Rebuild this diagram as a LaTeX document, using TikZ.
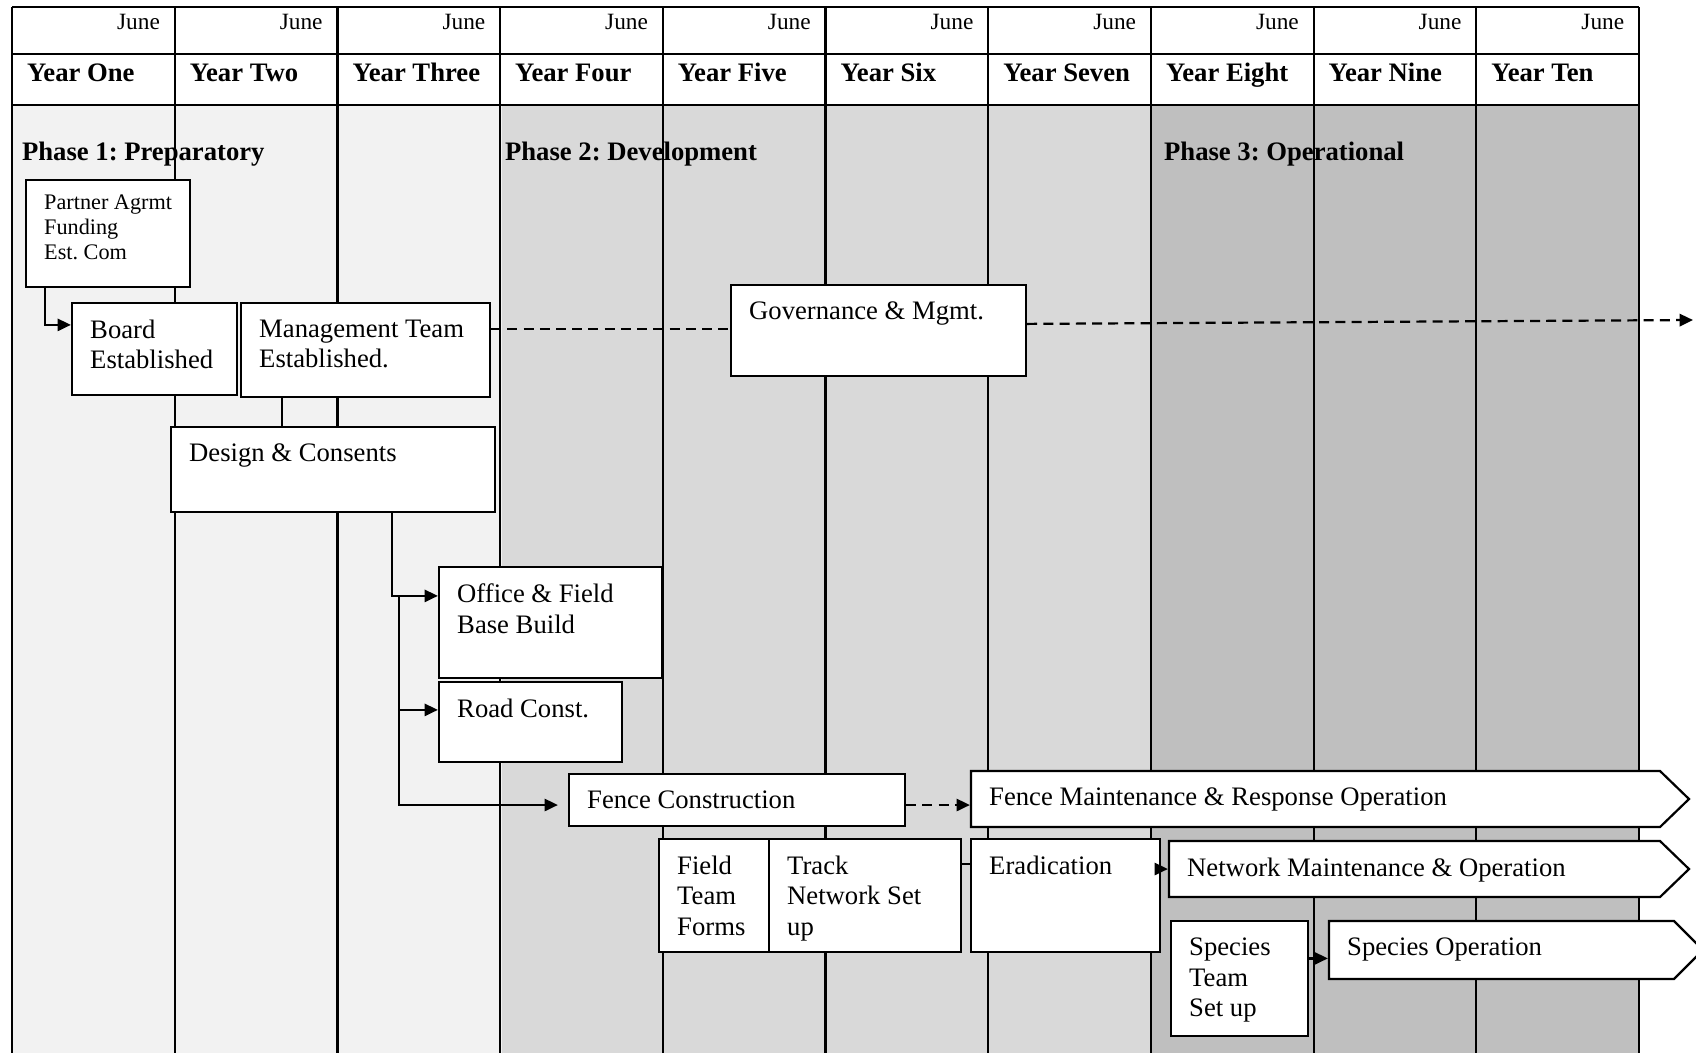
\documentclass[tikz,border=0pt]{standalone}
\usepackage{fontspec}
\setmainfont{Liberation Serif}
\usepackage{tikz}
\definecolor{phaseone}{HTML}{F2F2F2}
\definecolor{phasetwo}{HTML}{D9D9D9}
\definecolor{phasethree}{HTML}{BFBFBF}
\usetikzlibrary{arrows.meta, calc, positioning, fit}
\frenchspacing

\newcommand{\bodysize}{\fontsize{12}{13.8}\selectfont}
\newcommand{\smallsize}{\fontsize{10}{11.3}\selectfont}
\newcommand{\junesize}{\fontsize{10.5}{12}\selectfont}

% pentagon box: name, x1, y1, x2, y2, text
\newcommand{\arrowbox}[6]{%
  \draw[fill=white] (#2,#3) -- (#4,#3) -- ({#4+29},{(#3+#5)/2}) -- (#4,#5) -- (#2,#5) -- cycle;
  \node[fit={(#2,#3) (#4,#5)}, inner sep=0pt, label={[lbl]north west:{#6}}] (#1) {};
}

\begin{document}
\begin{tikzpicture}[x=0.45pt, y=-0.45pt, line width=1pt,
    box/.style={draw, fill=white, inner sep=0pt},
    lbl/.style={anchor=north west, inner sep=0pt, align=left, xshift=8.2pt, yshift=-7.5pt, font=\bodysize},
    phase/.style={anchor=base west, inner sep=0pt, font=\bodysize\bfseries},
    flow/.style={-{Triangle[length=6pt,width=5.5pt]}},
    dashline/.style={dash pattern=on 4.5pt off 2.8pt}]

	\useasboundingbox (0,0) rectangle (1696,1053);
	\clip (0,0) rectangle (1696,1053);

	% shading of the phases
	\fill[phaseone] (12,105) rectangle (502,1053);
	\fill[phasetwo] (502,105) rectangle (1152,1053);
	\fill[phasethree] (1152,105) rectangle (1639,1053);

	% table
	\foreach \y in {7,54,105} \draw (12,\y) -- (1639,\y);
	\foreach \i in {0,...,10} \draw ({12+\i*162.7},7) -- ({12+\i*162.7},1053);

	\foreach \yr [count=\i from 0] in {One,Two,Three,Four,Five,Six,Seven,Eight,Nine,Ten} {
		\node[anchor=base east, inner sep=0pt, font=\junesize] (june\i) at ({161+\i*162.7},29) {June};
		\node[anchor=base west, inner sep=0pt, font=\bodysize\bfseries] (year\i) at ({26+\i*162.7},81) {Year \yr};
	}

	% phases
	\node[phase] (ph1) at (21,160) {Phase 1: Preparatory};
	\node[phase] (ph2) at (504,160) {Phase 2: Development};
	\node[phase] (ph3) at (1163,160) {Phase 3: Operational};

	% boxes
	\node[box, fit={(26,180) (190,287)}, label={[lbl, font=\smallsize, yshift=1pt]north west:{Partner Agrmt\\Funding\\Est. Com}}] (partner) {};
	\node[box, fit={(72,303) (237,395)}, label={[lbl]north west:{Board\\Established}}] (board) {};
	\node[box, fit={(241,303) (490,397)}, label={[lbl]north west:{Management Team\\Established.}}] (mgmt) {};
	\node[box, fit={(731,285) (1026,376)}, label={[lbl]north west:{Governance \& Mgmt.}}] (gov) {};
	\node[box, fit={(171,427) (495,512)}, label={[lbl]north west:{Design \& Consents}}] (design) {};
	\node[box, fit={(439,567) (662,678)}, label={[lbl]north west:{Office \& Field\\Base Build}}] (office) {};
	\node[box, fit={(439,682) (622,762)}, label={[lbl]north west:{Road Const.}}] (road) {};
	\node[box, fit={(569,774) (905,826)}, label={[lbl]north west:{Fence Construction}}] (fencec) {};
	\node[box, fit={(659,839) (769,952)}, label={[lbl]north west:{Field\\Team\\Forms}}] (field) {};
	\node[box, fit={(769,839) (961,952)}, label={[lbl]north west:{Track\\Network Set\\up}}] (track) {};
	\node[box, fit={(971,839) (1160,952)}, label={[lbl]north west:{Eradication}}] (erad) {};
	\node[box, fit={(1171,921) (1308,1036)}, label={[lbl]north west:{Species\\Team\\Set up}}] (spt) {};
	\arrowbox{fmr}{971}{771}{1660}{827}{Fence Maintenance \& Response Operation}
	\arrowbox{netm}{1169}{841}{1660}{897}{Network Maintenance \& Operation}
	\arrowbox{spo}{1329}{921}{1674}{979}{Species Operation}

	% connectors
	\draw[flow] ($(partner.south west)+(20,0)$) |- ($(board.north west)+(0,23)$);
	\draw ($(mgmt.south west)+(42,0)$) -- ($(design.north west)+(112,0)$);
	\draw[flow] ($(design.south west)+(222,0)$) |- ($(office.north west)+(0,30)$);
	\coordinate (split) at (399,597);
	\draw[flow] (split) |- ($(road.north west)+(0,29)$);
	\draw[flow, shorten >=4.5pt] (split) |- ($(fencec.west)+(0,5)$);
	\draw[flow, dashline] ($(fencec.east)+(0,5)$) coordinate (f1) -- (f1 -| fmr.west);
	\draw[dashline] ($(mgmt.north east)+(0,27)$) coordinate (m1) -- (m1 -| gov.west);
	\coordinate (govend) at (1693,320);
	\draw[flow, dashline] ($(gov.north east)+(0,40)$) -- (govend);
	\draw ($(track.north east)+(0,26)$) coordinate (t1) -- (t1 -| erad.west);
	\draw[flow] (erad.east |- netm.west) -- (netm.west);
	\draw[flow] ($(spt.north east)+(0,38.5)$) coordinate (s1) -- (s1 -| spo.west);

\end{tikzpicture}
\end{document}
